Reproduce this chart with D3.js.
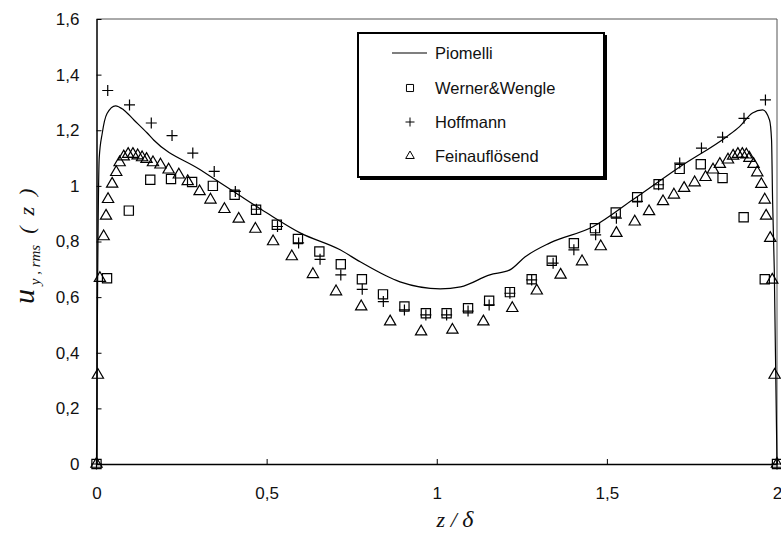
<!DOCTYPE html>
<html>
<head>
<meta charset="utf-8">
<script src="https://cdn.jsdelivr.net/npm/d3@7"></script>
<style>
  body { margin: 0; background: #fff; }
  svg text { font-family: "Liberation Sans", Arial, sans-serif; }
</style>
</head>
<body>
<script>
const width = 781;
const height = 535;

// Piomelli (solid line)
const piomelliZ = [0, 0.003, 0.008, 0.017, 0.031, 0.056, 0.08, 0.11, 0.149, 0.168, 0.305, 0.403, 0.5, 0.6, 0.716, 0.775, 0.892, 1.01, 1.07, 1.156, 1.215, 1.26, 1.333, 1.459, 1.576, 1.714, 1.852, 1.89, 1.928, 1.958, 1.978, 1.984, 1.987, 1.992, 2.0];
const piomelliU = [0, 0.6, 1.1, 1.19, 1.26, 1.288, 1.273, 1.237, 1.19, 1.165, 1.058, 0.98, 0.903, 0.83, 0.77, 0.727, 0.655, 0.63, 0.637, 0.68, 0.698, 0.745, 0.795, 0.853, 0.95, 1.068, 1.177, 1.213, 1.262, 1.273, 1.237, 1.165, 0.95, 0.7, 0];

// Werner&Wengle (squares)
const wernerZ = [0, 0.031, 0.095, 0.158, 0.219, 0.281, 0.342, 0.406, 0.469, 0.53, 0.592, 0.655, 0.718, 0.78, 0.842, 0.905, 0.968, 1.029, 1.092, 1.154, 1.215, 1.279, 1.338, 1.403, 1.465, 1.526, 1.589, 1.652, 1.714, 1.776, 1.84, 1.902, 1.964, 2.0];
const wernerU = [0, 0.668, 0.911, 1.022, 1.025, 1.014, 1.0, 0.968, 0.914, 0.86, 0.809, 0.764, 0.718, 0.664, 0.61, 0.566, 0.542, 0.542, 0.56, 0.587, 0.618, 0.664, 0.731, 0.794, 0.848, 0.904, 0.959, 1.006, 1.061, 1.078, 1.028, 0.887, 0.664, 0];

// Hoffmann (crosses)
const hoffmannZ = [0, 0.033, 0.097, 0.161, 0.222, 0.283, 0.346, 0.408, 0.47, 0.532, 0.594, 0.657, 0.718, 0.781, 0.843, 0.905, 0.968, 1.029, 1.092, 1.154, 1.215, 1.279, 1.342, 1.403, 1.467, 1.528, 1.59, 1.652, 1.714, 1.778, 1.84, 1.903, 1.966, 2.0];
const hoffmannU = [0, 1.343, 1.291, 1.226, 1.181, 1.118, 1.052, 0.98, 0.916, 0.854, 0.795, 0.736, 0.68, 0.628, 0.584, 0.554, 0.536, 0.536, 0.55, 0.572, 0.614, 0.662, 0.722, 0.77, 0.824, 0.884, 0.944, 1.004, 1.082, 1.136, 1.175, 1.243, 1.309, 0];

// Feinaufloesend (triangles)
const feinZ = [0, 0.004, 0.01, 0.021, 0.028, 0.034, 0.046, 0.058, 0.068, 0.08, 0.093, 0.107, 0.121, 0.134, 0.147, 0.166, 0.188, 0.212, 0.242, 0.268, 0.303, 0.335, 0.376, 0.418, 0.467, 0.519, 0.574, 0.636, 0.704, 0.778, 0.863, 0.954, 1.046, 1.137, 1.222, 1.294, 1.364, 1.427, 1.482, 1.528, 1.582, 1.624, 1.665, 1.697, 1.727, 1.758, 1.79, 1.812, 1.832, 1.856, 1.871, 1.885, 1.898, 1.91, 1.919, 1.931, 1.942, 1.954, 1.964, 1.968, 1.98, 1.986, 1.993, 2.0];
const feinU = [0, 0.32, 0.668, 0.818, 0.892, 0.952, 1.007, 1.049, 1.084, 1.105, 1.114, 1.114, 1.109, 1.102, 1.096, 1.084, 1.076, 1.058, 1.04, 1.016, 0.98, 0.95, 0.916, 0.881, 0.845, 0.8, 0.746, 0.682, 0.62, 0.566, 0.512, 0.476, 0.482, 0.512, 0.56, 0.623, 0.68, 0.728, 0.782, 0.83, 0.871, 0.908, 0.944, 0.968, 0.992, 1.012, 1.031, 1.058, 1.078, 1.094, 1.108, 1.114, 1.114, 1.112, 1.1, 1.078, 1.048, 1.006, 0.95, 0.892, 0.812, 0.662, 0.32, 0];

const legendNames = ['Piomelli', 'Werner&Wengle', 'Hoffmann', 'Feinauflösend'];
const xTicks = [0, 0.5, 1, 1.5, 2];
const yTicks = [0, 0.2, 0.4, 0.6, 0.8, 1, 1.2, 1.4, 1.6];

const plotLeft = 96.5, plotRight = 777, plotTop = 19, plotBottom = 464;

const x = d3.scaleLinear().domain([0, 2]).range([plotLeft, plotRight]);
const y = d3.scaleLinear().domain([0, 1.6]).range([plotBottom, plotTop]);

const fmt = d3.formatLocale({decimal: ',', thousands: '.', grouping: [3], currency: ['', '']}).format('~g');

const svg = d3.select('body').append('svg')
    .attr('width', width)
    .attr('height', height);

// plot frame (top and right)
svg.append('path')
    .attr('d', `M${plotLeft},${plotTop}H${plotRight}V${plotBottom}`)
    .attr('fill', 'none')
    .attr('stroke', '#555')
    .attr('stroke-width', 1);

const yAxis = svg.append('g')
    .attr('transform', `translate(${plotLeft},0)`)
    .call(d3.axisLeft(y).tickValues(yTicks).tickFormat(fmt).tickSizeInner(-5).tickSizeOuter(0).tickPadding(17));
const xAxis = svg.append('g')
    .attr('transform', `translate(0,${plotBottom})`)
    .call(d3.axisBottom(x).tickValues(xTicks).tickFormat(fmt).tickSizeInner(-5).tickSizeOuter(0).tickPadding(23));

[yAxis, xAxis].forEach(function (g) {
    g.select('.domain').attr('stroke', '#000').attr('stroke-width', 1.5);
    g.selectAll('.tick line').attr('stroke', '#000');
    g.selectAll('.tick text')
        .attr('fill', '#111')
        .style('font-family', '"Liberation Sans", Arial, sans-serif')
        .style('font-size', '17px');
});

// Piomelli curve
const line = d3.line()
    .x(function (d) { return x(d[0]); })
    .y(function (d) { return y(d[1]); })
    .curve(d3.curveMonotoneX);

svg.append('path')
    .datum(d3.zip(piomelliZ, piomelliU))
    .attr('d', line)
    .attr('fill', 'none')
    .attr('stroke', '#000')
    .attr('stroke-width', 1.2);

const square = d3.symbol().type(d3.symbolSquare).size(85);
const triangle = d3.symbol().type(d3.symbolTriangle).size(55);

function cross(s) {
    return `M${-s},0H${s}M0,${-s}V${s}`;
}

svg.append('g')
    .selectAll('path')
    .data(d3.zip(wernerZ, wernerU))
    .enter().append('path')
    .attr('transform', function (d) { return `translate(${x(d[0])},${y(d[1])})`; })
    .attr('d', square)
    .attr('fill', 'none')
    .attr('stroke', '#000')
    .attr('stroke-width', 1.2);

svg.append('g')
    .selectAll('path')
    .data(d3.zip(hoffmannZ, hoffmannU))
    .enter().append('path')
    .attr('transform', function (d) { return `translate(${x(d[0])},${y(d[1])})`; })
    .attr('d', cross(5.5))
    .attr('fill', 'none')
    .attr('stroke', '#000')
    .attr('stroke-width', 1.2);

svg.append('g')
    .selectAll('path')
    .data(d3.zip(feinZ, feinU))
    .enter().append('path')
    .attr('transform', function (d) { return `translate(${x(d[0])},${y(d[1])})`; })
    .attr('d', triangle)
    .attr('fill', 'none')
    .attr('stroke', '#000')
    .attr('stroke-width', 1.2);

// legend
const legend = svg.append('g');
legend.append('rect')
    .attr('x', 360).attr('y', 35)
    .attr('width', 247).attr('height', 145)
    .attr('fill', '#000');
legend.append('rect')
    .attr('x', 358).attr('y', 33)
    .attr('width', 246).attr('height', 144)
    .attr('fill', '#fff')
    .attr('stroke', '#000')
    .attr('stroke-width', 2);

const legendY = [53, 88, 122, 156];
legend.append('line')
    .attr('x1', 392).attr('x2', 427)
    .attr('y1', legendY[0]).attr('y2', legendY[0])
    .attr('stroke', '#000').attr('stroke-width', 1.2);
legend.append('path')
    .attr('transform', `translate(410,${legendY[1]})`)
    .attr('d', d3.symbol().type(d3.symbolSquare).size(50))
    .attr('fill', 'none').attr('stroke', '#000').attr('stroke-width', 1);
legend.append('path')
    .attr('transform', `translate(410,${legendY[2]})`)
    .attr('d', cross(4.5))
    .attr('fill', 'none').attr('stroke', '#000').attr('stroke-width', 1);
legend.append('path')
    .attr('transform', `translate(410,${legendY[3]})`)
    .attr('d', d3.symbol().type(d3.symbolTriangle).size(32))
    .attr('fill', 'none').attr('stroke', '#000').attr('stroke-width', 1);

legend.selectAll('text.lbl')
    .data(legendNames)
    .enter().append('text')
    .attr('class', 'lbl')
    .attr('x', 435)
    .attr('y', function (d, i) { return legendY[i]; })
    .attr('dy', '0.35em')
    .style('font-size', '16.5px')
    .attr('fill', '#111')
    .text(function (d) { return d; });

// axis labels
const xLabel = svg.append('text')
    .attr('x', 455)
    .attr('y', 527)
    .attr('text-anchor', 'middle')
    .style('font-family', '"Liberation Serif", "Times New Roman", serif')
    .style('font-style', 'italic')
    .style('font-size', '22px')
    .attr('fill', '#111');
xLabel.append('tspan').text('z / ');
xLabel.append('tspan').style('font-size', '24px').text('δ');

const yLabel = svg.append('text')
    .attr('transform', 'translate(34,304) rotate(-90)')
    .attr('text-anchor', 'start')
    .style('font-family', '"Liberation Serif", "Times New Roman", serif')
    .style('font-style', 'italic')
    .style('white-space', 'pre')
    .attr('fill', '#111');
yLabel.append('tspan').style('font-size', '30px').text('u');
yLabel.append('tspan').style('font-size', '15px').attr('dy', 6).text(' y , rms');
yLabel.append('tspan').style('font-size', '22px').attr('dy', -6).text('  (  z  )');
</script>
</body>
</html>
